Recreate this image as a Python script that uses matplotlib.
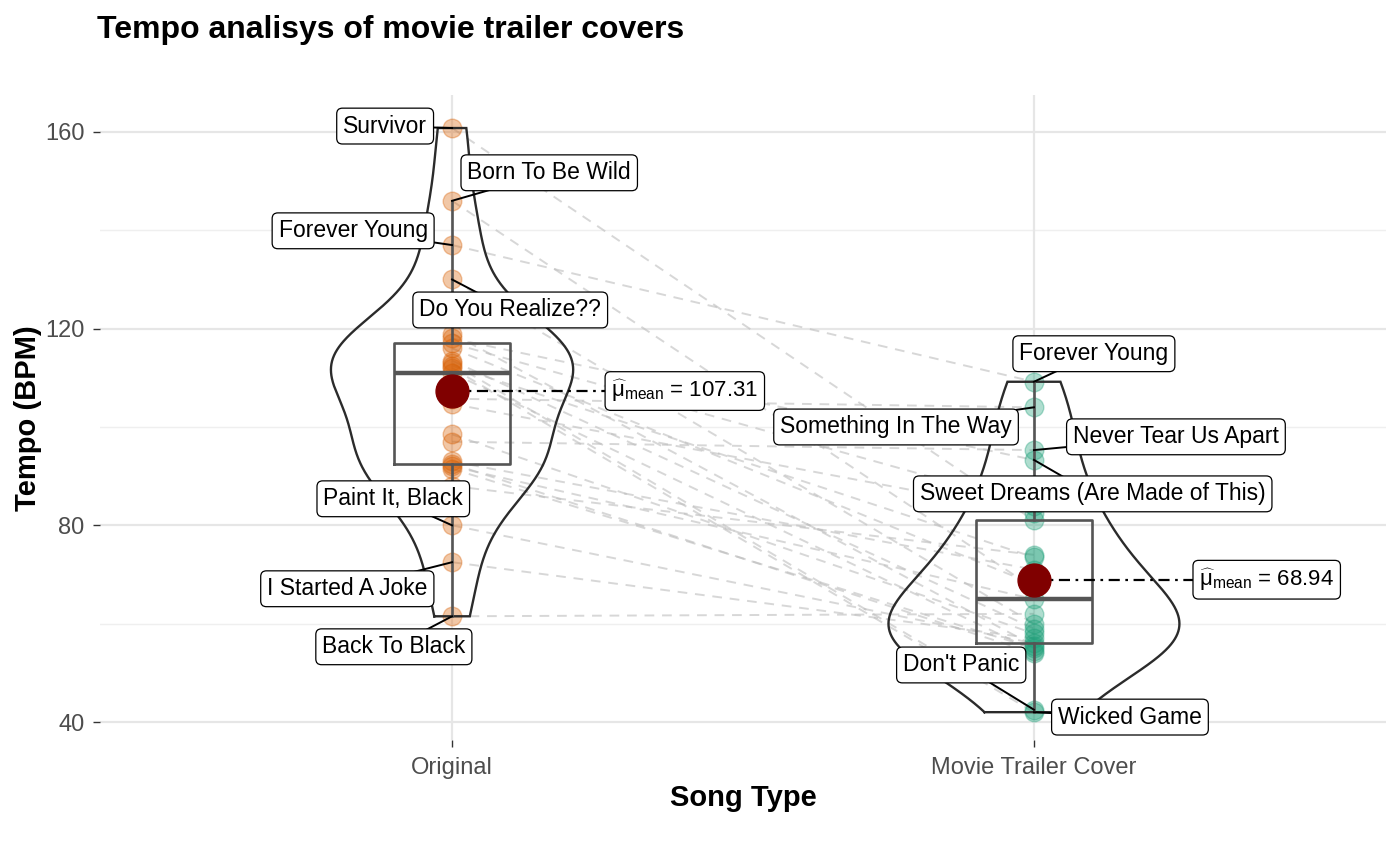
import numpy as np
import matplotlib
matplotlib.use("Agg")
import matplotlib.pyplot as plt

plt.rcParams['font.family'] = ['Liberation Sans', 'DejaVu Sans']
plt.rcParams['mathtext.fontset'] = 'custom'
plt.rcParams['mathtext.rm'] = 'Liberation Sans'
plt.rcParams['mathtext.it'] = 'Liberation Sans:italic'
plt.rcParams['mathtext.bf'] = 'Liberation Sans:bold'

# ---------------- data ----------------
groups = ["Original", "Movie Trailer Cover"]
original_tempo = [160.8, 146.0, 137.0, 130.0, 105.75, 97.0, 118.0, 113.0, 112.0, 80.0, 72.5, 61.5,
                  88.0, 91.5, 92.0, 92.5, 93.0, 98.5, 104.7, 111.0, 112.5, 113.5, 116.0, 117.0, 119.0]
cover_tempo = [81.0, 67.2, 109.2, 60.0, 104.0, 95.3, 93.3, 42.5, 42.0, 56.0, 57.0, 62.0,
               74.0, 55.0, 65.0, 54.0, 71.0, 58.0, 82.5, 54.5, 73.5, 59.0, 68.0, 84.0, 55.5]
original_labels = ["Survivor", "Born To Be Wild", "Forever Young", "Do You Realize??", "", "", "", "", "",
                   "Paint It, Black", "I Started A Joke", "Back To Black",
                   "", "", "", "", "", "", "", "", "", "", "", "", ""]
cover_labels = ["", "", "Forever Young", "", "Something In The Way", "Never Tear Us Apart",
                "Sweet Dreams (Are Made of This)", "Don't Panic", "Wicked Game",
                "", "", "", "", "", "", "", "", "", "", "", "", "", "", "", ""]

# label offsets (layout, in axis units: group units, BPM)
orig_offsets = {"Survivor": (-0.115, 0.4), "Born To Be Wild": (0.167, 5.7), "Forever Young": (-0.170, 2.9),
                "Do You Realize??": (0.100, -6.2), "Paint It, Black": (-0.101, 5.4),
                "I Started A Joke": (-0.180, -5.4), "Back To Black": (-0.100, -6.2)}
cover_offsets = {"Forever Young": (0.103, 5.7), "Something In The Way": (-0.237, -4.0),
                 "Never Tear Us Apart": (0.244, 2.7), "Sweet Dreams (Are Made of This)": (0.101, -6.9),
                 "Don't Panic": (-0.125, 9.1), "Wicked Game": (0.165, -1.0)}

colors = ["#D95F02", "#1B9E77"]

# ---------------- figure ----------------
fig = plt.figure(figsize=(14, 8.65), dpi=100)
ax = fig.add_axes([100/1400, 1-740/865, (1386-100)/1400, (740-95)/865])

data = [np.array(original_tempo), np.array(cover_tempo)]
xs = [1, 2]

ax.set_xlim(0.395, 2.605)
ax.set_ylim(36.34, 167.52)

# grid
for yv in [60, 100, 140]:
    ax.axhline(yv, color="#EFEFEF", lw=1.0, zorder=0)
for yv in [40, 80, 120, 160]:
    ax.axhline(yv, color="#E6E6E6", lw=1.6, zorder=0)
for xv in xs:
    ax.axvline(xv, color="#E6E6E6", lw=1.6, zorder=0)

# paired dashed lines
for a, b in zip(original_tempo, cover_tempo):
    ax.plot([1, 2], [a, b], color="#BDBDBD", alpha=0.6, lw=1.4, ls=(0, (5, 4)), zorder=1)

# points
for x, d, c in zip(xs, data, colors):
    ax.scatter(np.full(len(d), x), d, s=180, color=c, alpha=0.35, edgecolors=c, linewidths=1.0, zorder=3)

# violins (trimmed, scale = area)
def kde(d, grid):
    n = len(d)
    q75, q25 = np.percentile(d, [75, 25])
    bw = 0.9 * min(np.std(d, ddof=1), (q75 - q25) / 1.34) * n ** (-0.2)
    z = (grid[:, None] - d[None, :]) / bw
    return np.exp(-0.5 * z ** 2).sum(axis=1) / (n * bw * np.sqrt(2 * np.pi))

grids = [np.linspace(d.min(), d.max(), 512) for d in data]
dens = [kde(d, g) for d, g in zip(data, grids)]
gmax = max(dd.max() for dd in dens)
for x, g, dd in zip(xs, grids, dens):
    w = dd / gmax * 0.25
    px = np.concatenate([x - w, (x + w)[::-1], [x - w[0]]])
    py = np.concatenate([g, g[::-1], [g[0]]])
    ax.plot(px, py, color="#2B2B2B", lw=1.7, zorder=4, solid_joinstyle="miter")

# boxplots (no outliers shown)
for x, d in zip(xs, data):
    q1, med, q3 = np.percentile(d, [25, 50, 75])
    iqr = q3 - q1
    upper = d[d <= q3 + 1.5 * iqr].max()
    lower = d[d >= q1 - 1.5 * iqr].min()
    bw2 = 0.1
    ax.plot([x - bw2, x + bw2, x + bw2, x - bw2, x - bw2], [q1, q1, q3, q3, q1],
            color="#555555", lw=1.9, zorder=5)
    ax.plot([x - bw2, x + bw2], [med, med], color="#555555", lw=3.2, zorder=5, solid_capstyle="butt")
    ax.plot([x, x], [q3, upper], color="#555555", lw=1.9, zorder=5)
    ax.plot([x, x], [lower, q1], color="#555555", lw=1.9, zorder=5)

# label boxes
bbox = dict(boxstyle="round,pad=0.28,rounding_size=0.25", fc="white", ec="black", lw=0.9)
for x, vals, labs, offs in [(1, original_tempo, original_labels, orig_offsets),
                            (2, cover_tempo, cover_labels, cover_offsets)]:
    for v, lab in zip(vals, labs):
        if not lab:
            continue
        dx, dy = offs[lab]
        ax.plot([x, x + dx], [v, v + dy], color="black", lw=1.4, zorder=6)
        ax.text(x + dx, v + dy, lab, ha="center", va="center", fontsize=16.5, color="black",
                bbox=bbox, zorder=7)

# means
for x, d in zip(xs, data):
    m = d.mean()
    ax.plot([x, x + 0.40], [m, m], color="black", lw=1.6, ls=(0, (5, 2.5, 1.2, 2.5)), zorder=6)
    ax.scatter([x], [m], s=560, color="#800000", zorder=8)
    ax.text(x + 0.40, m, r"$\widehat{\mathrm{μ}}_{\mathrm{mean}}$" + f" = {m:.2f}", ha="center", va="center",
            fontsize=16, color="black", bbox=bbox, zorder=7)

# axes styling
for s in ax.spines.values():
    s.set_visible(False)
ax.set_xticks(xs)
ax.set_xticklabels(groups)
ax.set_yticks([40, 80, 120, 160])
ax.tick_params(axis="both", labelsize=17, labelcolor="#4D4D4D", color="#333333", length=5, width=1.0)
ax.tick_params(axis="x", pad=7)
ax.tick_params(axis="y", pad=6)

fig.text(97/1400, 1-30/865, "Tempo analisys of movie trailer covers", fontsize=23, fontweight="bold",
         ha="left", va="center")
fig.text(743/1400, 1-798/865, "Song Type", fontsize=21, fontweight="bold", ha="center", va="center")
fig.text(28/1400, 1-418/865, "Tempo (BPM)", fontsize=21, fontweight="bold", ha="center", va="center",
         rotation=90)

fig.savefig("out.png", dpi=100)
